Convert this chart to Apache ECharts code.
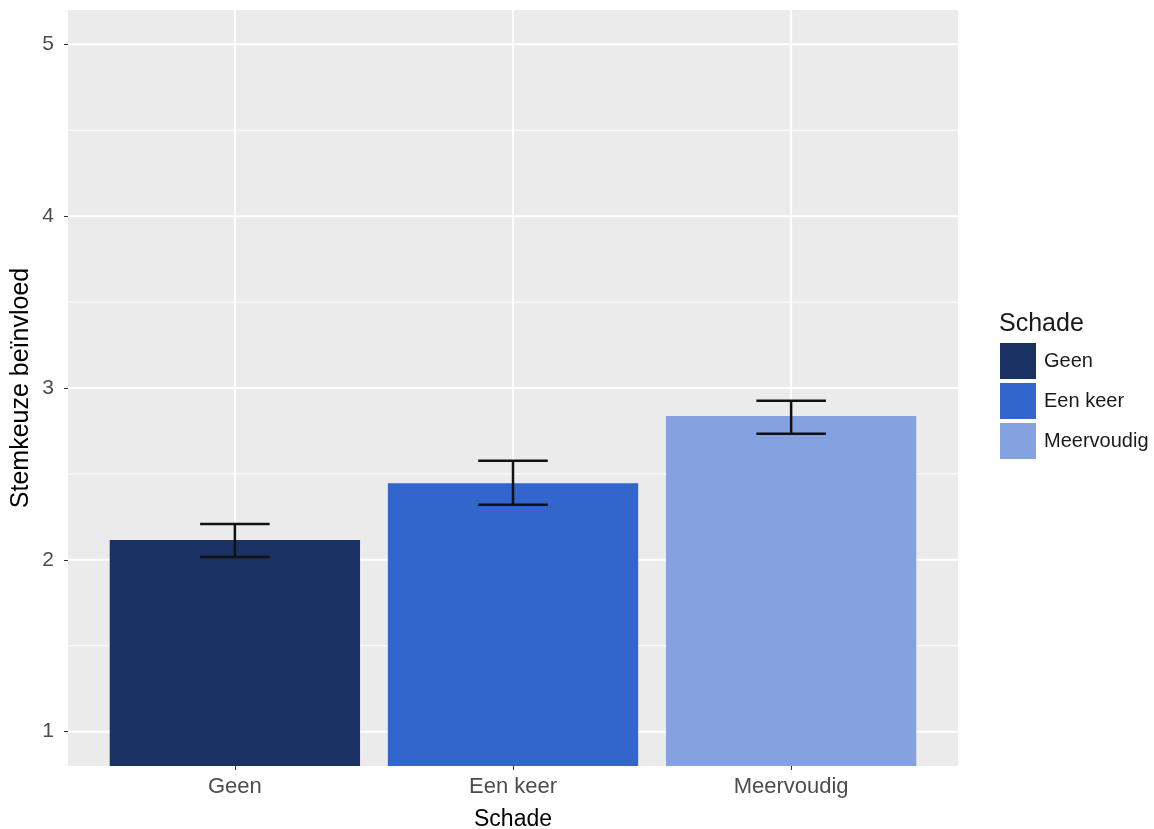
<!DOCTYPE html>
<html>
<head>
<meta charset="utf-8">
<script src="https://cdn.jsdelivr.net/npm/echarts@6/dist/echarts.min.js"></script>
<style>html,body{margin:0;padding:0;background:#fff}#c{width:1154px;height:829px}</style>
</head>
<body>
<div id="c"></div>
<script>
const categories = ['Geen', 'Een keer', 'Meervoudig'];
const means = [2.115, 2.446, 2.837];
const lower = [2.017, 2.320, 2.734];
const upper = [2.209, 2.577, 2.926];
const colors = ['#1a3263', '#3366cc', '#84a1e0'];
const yTicks = [1, 2, 3, 4, 5];
const yMinor = [1.5, 2.5, 3.5, 4.5];
const xPositions = categories.map((c, i) => i);

const FONT = 'Liberation Sans, Arial, sans-serif';
const chart = echarts.init(document.getElementById('c'));

const BAR_HALF = 0.45;
const CAP_HALF = 0.125;

const barSeries = categories.map((c, i) => ({
  name: c,
  type: 'custom',
  z: 3,
  clip: true,
  silent: true,
  itemStyle: { color: colors[i] },
  data: [[i, means[i]]],
  renderItem: function (params, api) {
    const x = api.value(0);
    const tl = api.coord([x - BAR_HALF, api.value(1)]);
    const br = api.coord([x + BAR_HALF, 0]);
    return {
      type: 'rect',
      shape: { x: tl[0], y: tl[1], width: br[0] - tl[0], height: br[1] - tl[1] },
      style: { fill: colors[i] }
    };
  }
}));

const hGrid = {
  type: 'custom',
  z: 1,
  silent: true,
  clip: true,
  data: [
    ...yMinor.map(v => [0, v, 1]),
    ...yTicks.map(v => [0, v, 2])
  ],
  renderItem: function (params, api) {
    const cs = params.coordSys;
    const y = api.coord([0, api.value(1)])[1];
    return {
      type: 'line',
      shape: { x1: cs.x, y1: y, x2: cs.x + cs.width, y2: y },
      style: { stroke: '#ffffff', lineWidth: api.value(2) }
    };
  }
};

const vGrid = {
  type: 'custom',
  z: 1,
  silent: true,
  data: xPositions.map(i => [i, 1]),
  renderItem: function (params, api) {
    const cs = params.coordSys;
    const x = api.coord([api.value(0), 1])[0];
    return {
      type: 'line',
      shape: { x1: x, y1: cs.y, x2: x, y2: cs.y + cs.height },
      style: { stroke: '#ffffff', lineWidth: 2 }
    };
  }
};

const errorSeries = {
  type: 'custom',
  z: 4,
  silent: true,
  data: categories.map((c, i) => [i, lower[i], upper[i]]),
  renderItem: function (params, api) {
    const x = api.value(0);
    const lo = api.coord([x, api.value(1)]);
    const hi = api.coord([x, api.value(2)]);
    const loL = api.coord([x - CAP_HALF, api.value(1)]);
    const loR = api.coord([x + CAP_HALF, api.value(1)]);
    const hiL = api.coord([x - CAP_HALF, api.value(2)]);
    const hiR = api.coord([x + CAP_HALF, api.value(2)]);
    const style = { stroke: '#111111', lineWidth: 2.5 };
    return {
      type: 'group',
      children: [
        { type: 'line', shape: { x1: lo[0], y1: lo[1], x2: hi[0], y2: hi[1] }, style },
        { type: 'line', shape: { x1: loL[0], y1: loL[1], x2: loR[0], y2: loR[1] }, style },
        { type: 'line', shape: { x1: hiL[0], y1: hiL[1], x2: hiR[0], y2: hiR[1] }, style }
      ]
    };
  }
};

chart.setOption({
  animation: false,
  textStyle: { fontFamily: FONT },
  grid: {
    left: 68, right: 196, top: 10, bottom: 63,
    outerBoundsMode: 'none',
    containLabel: false,
    show: true, backgroundColor: '#ebebeb', borderWidth: 0
  },
  xAxis: {
    type: 'value',
    min: -0.6,
    max: 2.6,
    name: 'Schade',
    nameLocation: 'middle',
    nameGap: 42,
    nameMoveOverlap: false,
    nameTextStyle: { fontSize: 23, color: '#000000', fontFamily: FONT },
    axisLine: { show: false, onZero: false },
    axisTick: { show: true, length: 4, customValues: xPositions, lineStyle: { color: '#333333', width: 1 } },
    axisLabel: {
      fontSize: 22, color: '#4d4d4d', margin: 10, fontFamily: FONT,
      customValues: xPositions,
      formatter: v => categories[Math.round(v)]
    },
    splitLine: { show: false }
  },
  yAxis: {
    type: 'value',
    min: 0.8,
    max: 5.2,
    name: 'Stemkeuze beïnvloed',
    nameLocation: 'middle',
    nameGap: 34,
    nameMoveOverlap: false,
    nameTextStyle: { fontSize: 25, color: '#000000', fontFamily: FONT },
    axisLine: { show: false, onZero: false },
    axisTick: { show: true, length: 4, customValues: yTicks, lineStyle: { color: '#333333', width: 1 } },
    axisLabel: { fontSize: 21, color: '#4d4d4d', margin: 14, customValues: yTicks, fontFamily: FONT },
    splitLine: { show: false }
  },
  legend: {
    orient: 'vertical',
    left: 1000,
    top: 343,
    icon: 'rect',
    itemWidth: 36,
    itemHeight: 36,
    itemGap: 4,
    padding: 0,
    textStyle: { fontSize: 20, color: '#1a1a1a', fontFamily: FONT, padding: [0, 0, 0, 3] },
    data: categories
  },
  graphic: [{
    type: 'text',
    left: 999,
    top: 312,
    style: { text: 'Schade', fontSize: 25, fill: '#1a1a1a', fontFamily: FONT }
  }],
  series: [hGrid, vGrid, ...barSeries, errorSeries]
});
</script>
</body>
</html>
